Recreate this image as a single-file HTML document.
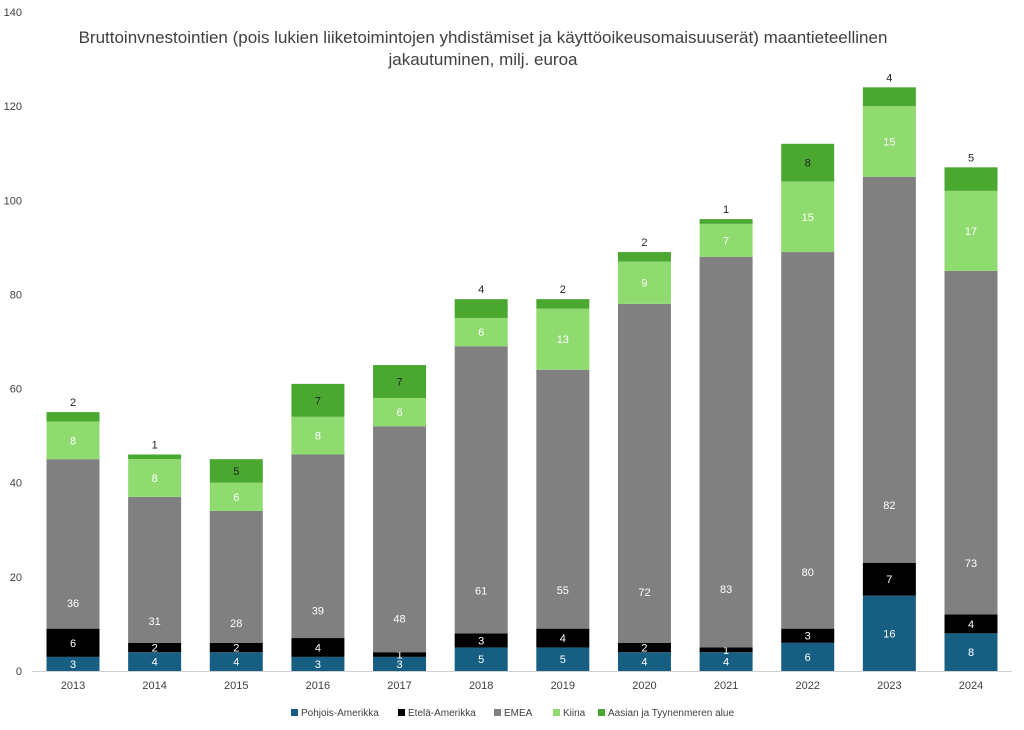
<!DOCTYPE html>
<html><head><meta charset="utf-8"><style>
html,body{margin:0;padding:0;background:#fff;}
svg{display:block;font-family:"Liberation Sans",sans-serif;}
</style></head><body>
<svg id="chart" width="1024" height="730" viewBox="0 0 1024 730">
<text x="483" y="43" text-anchor="middle" font-size="17" fill="#404040">Bruttoinvnestointien (pois lukien liiketoimintojen yhdistämiset ja käyttöoikeusomaisuuserät) maantieteellinen</text>
<text x="483" y="65" text-anchor="middle" font-size="17" fill="#404040">jakautuminen, milj. euroa</text>
<g id="yaxis"></g>
<g id="bars"></g>
<g id="xaxis"></g>
<g id="legend"></g>
</svg>
<script>
const years = ["2013","2014","2015","2016","2017","2018","2019","2020","2021","2022","2023","2024"];
const pohjoisAmerikka = [3,4,4,3,3,5,5,4,4,6,16,8];
const etelaAmerikka = [6,2,2,4,1,3,4,2,1,3,7,4];
const emea = [36,31,28,39,48,61,55,72,83,80,82,73];
const kiina = [8,8,6,8,6,6,13,9,7,15,15,17];
const aasia = [2,1,5,7,7,4,2,2,1,8,4,5];
const aasiaLabelAbove = [true,true,false,false,false,true,true,true,true,false,true,true];
const yTicks = [0,20,40,60,80,100,120,140];
const seriesNames = ["Pohjois-Amerikka","Etelä-Amerikka","EMEA","Kiina","Aasian ja Tyynenmeren alue"];

const NS="http://www.w3.org/2000/svg";
const colors=["#175f82","#000000","#808080","#8fdb70","#4aa72f"];
const labelColors=["#fff","#fff","#fff","#fff","#222"];
const y0=671, yTop=12, yMax=140;
const yScale=v=>y0-(v/yMax)*(y0-yTop);
const x0=73, step=(971-73)/11, bw=53;
const xScale=i=>x0+i*step;
function mk(tag,attrs,parent){const e=document.createElementNS(NS,tag);for(const k in attrs)e.setAttribute(k,attrs[k]);parent.appendChild(e);return e;}

const yaxis=document.getElementById('yaxis');
yTicks.forEach(t=>{
  const tx=mk('text',{x:22,y:yScale(t)+4,'text-anchor':'end','font-size':11,fill:'#404040'},yaxis);
  
  
  tx.textContent=t;
});
const xaxis=document.getElementById('xaxis');
const axl=mk('line',{x1:32,x2:1012,y1:y0+0.5,y2:y0+0.5,stroke:'#d0d0d0','stroke-width':1},xaxis);



const series=[pohjoisAmerikka,etelaAmerikka,emea,kiina,aasia];
const bars=document.getElementById('bars');
years.forEach((yr,i)=>{
  const cx=xScale(i);
  let base=0;
  series.forEach((s,k)=>{
    const v=s[i];
    const r=mk('rect',{x:cx-bw/2,y:yScale(base+v),width:bw,height:yScale(base)-yScale(base+v),fill:colors[k]},bars);
    
    
    let ly;
    if(k===2) ly=yScale(base+Math.min(v*0.15,v/2))+4;
    else if(k===4 && aasiaLabelAbove[i]) ly=yScale(base+v)-6;
    else ly=yScale(base+v/2)+4;
    const t=mk('text',{x:cx,y:ly,'text-anchor':'middle','font-size':11,fill:(k===4&&aasiaLabelAbove[i])?'#222':labelColors[k]},bars);
    
    
    t.textContent=v;
    base+=v;
  });
  const xl=mk('text',{x:cx,y:689,'text-anchor':'middle','font-size':11,fill:'#404040'},xaxis);
  
  
  xl.textContent=yr;
});

const legend=document.getElementById('legend');
const lx=[291,398,494,553,598];
seriesNames.forEach((n,k)=>{
  const sw=mk('rect',{x:lx[k],y:709,width:7,height:7,fill:colors[k]},legend);
  
  
  const t=mk('text',{x:lx[k]+10,y:716,'font-size':10,fill:'#404040'},legend);
  
  
  t.textContent=n;
});
</script>
</body></html>
